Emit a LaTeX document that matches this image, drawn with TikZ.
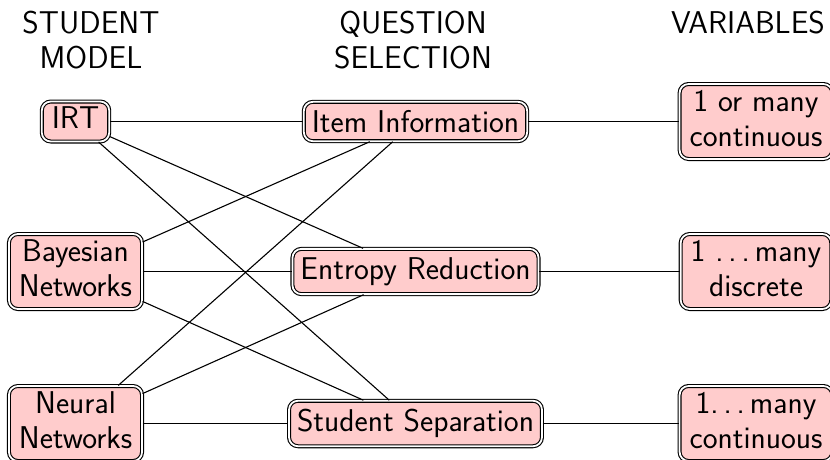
\documentclass[tikz,border=0pt]{standalone}
\setlength{\tabcolsep}{7.5pt}
% spaced ellipsis in the style of the classic LaTeX one
\newcommand{\spdots}{.\kern\fontdimen3\font.\kern\fontdimen3\font.\kern\fontdimen3\font}
\tikzset{
  txt/.style={font=\sffamily\fontsize{31.5}{35}\selectfont},
  box/.style={txt, draw=black, line width=1.1pt, double=white,
    double distance=1.8pt, fill=red!20, rounded corners=9pt},
  sidebox/.style={box, inner sep=2.5pt},
  midbox/.style={box, inner xsep=8pt, inner ysep=8.5pt},
  head/.style={txt, align=center, inner sep=0pt, anchor=north},
  link/.style={line width=1.1pt}
}
\begin{document}
\begin{tikzpicture}[x=1pt, y=-1pt]
  \useasboundingbox (0,0) rectangle (830,459);
  \clip (0,0) rectangle (830,459);

  % column headings
  \node[head] (hmodel) at (91,11) {STUDENT\\MODEL};
  \node[head] (hquest) at (413,11) {QUESTION\\SELECTION};
  \node[head] (hvar)   at (748,11) {VARIABLES};

  % student models
  \node[sidebox] (irt) at (75.5,121.5) {\begin{tabular}{c}IRT\end{tabular}};
  \node[sidebox] (bn)  at (75.5,271.5) {\begin{tabular}{c}Bayesian\\Networks\end{tabular}};
  \node[sidebox] (nn)  at (75.5,423.5) {\begin{tabular}{c}Neural\\Networks\end{tabular}};

  % question selection criteria
  \node[midbox] (ii) at (415.5,121.5) {Item Information};
  \node[midbox] (er) at (415.5,271.5) {Entropy Reduction};
  \node[midbox] (ss) at (415.5,423.5) {Student Separation};

  % variables
  \node[sidebox] (v1) at (756,121.5) {\begin{tabular}{c}1 or many\\continuous\end{tabular}};
  \node[sidebox] (v2) at (756,271.5) {\begin{tabular}{c}1 \spdots many\\discrete\end{tabular}};
  \node[sidebox] (v3) at (756,423.5) {\begin{tabular}{c}1\spdots many\\continuous\end{tabular}};

  % every model can use every criterion
  \foreach \m in {irt,bn,nn}
    \foreach \q in {ii,er,ss}
      \draw[link] (\m) -- (\q);

  \draw[link] (ii) -- (v1);
  \draw[link] (er) -- (v2);
  \draw[link] (ss) -- (v3);
\end{tikzpicture}
\end{document}
